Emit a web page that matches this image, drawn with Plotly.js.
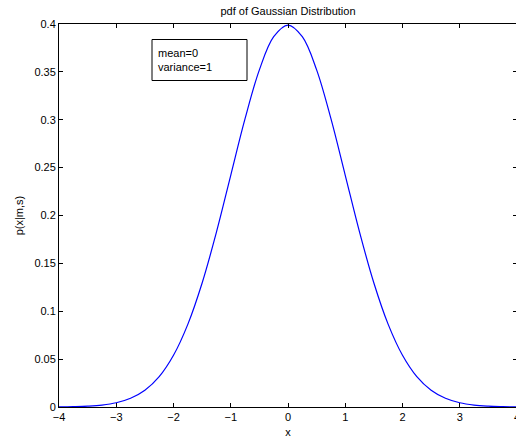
<!DOCTYPE html>
<html>
<head>
<meta charset="utf-8">
<script src="https://cdn.plot.ly/plotly-3.0.1.min.js"></script>
<style>
html,body{margin:0;padding:0;overflow:hidden;background:#fff;width:516px;height:438px;}
#chart{width:518px;height:438px;}
</style>
</head>
<body>
<div id="chart"></div>
<script>
var xValues = [-4,-3.75,-3.5,-3.25,-3,-2.75,-2.5,-2.25,-2,-1.75,-1.5,-1.25,-1,-0.75,-0.5,-0.25,0,0.25,0.5,0.75,1,1.25,1.5,1.75,2,2.25,2.5,2.75,3,3.25,3.5,3.75,4];
var pdfValues = [0.0001,0.0004,0.0009,0.002,0.0044,0.0091,0.0175,0.0317,0.054,0.0863,0.1295,0.1826,0.242,0.3011,0.3521,0.3867,0.3989,0.3867,0.3521,0.3011,0.242,0.1826,0.1295,0.0863,0.054,0.0317,0.0175,0.0091,0.0044,0.002,0.0009,0.0004,0.0001];
var xTickVals = [-4,-3,-2,-1,0,1,2,3,4];
var xTickText = ['\u22124','\u22123','\u22122','\u22121','0','1','2','3','4'];
var yTickVals = [0,0.05,0.1,0.15,0.2,0.25,0.3,0.35,0.4];
var yTickText = ['0','0.05','0.1','0.15','0.2','0.25','0.3','0.35','0.4'];
var legendLines = ['mean=0','variance=1'];

var fontFam = 'Liberation Sans, Arial, Helvetica, sans-serif';
var trace = {
  x: xValues, y: pdfValues, type: 'scatter', mode: 'lines',
  line: {color: '#0000ff', width: 1.2, shape: 'spline', smoothing: 1},
  hoverinfo: 'skip'
};
var layout = {
  width: 518, height: 438,
  margin: {l: 59, r: 1, t: 24, b: 31, pad: 0},
  paper_bgcolor: '#fff', plot_bgcolor: '#fff',
  showlegend: false,
  font: {family: fontFam, size: 11, color: '#000'},
  title: {text: 'pdf of Gaussian Distribution', font: {family: fontFam, size: 11, color: '#000'}, x: 0.5, xref: 'paper', y: 0.975, yref: 'container', yanchor: 'middle'},
  xaxis: {
    range: [-4, 4], tickvals: xTickVals, ticktext: xTickText,
    ticks: 'inside', ticklen: 4, tickwidth: 1, tickcolor: '#000',
    showline: true, linecolor: '#000', linewidth: 1, mirror: 'ticks',
    showgrid: false, zeroline: false, ticklabeloverflow: 'allow',
    tickfont: {family: fontFam, size: 11, color: '#000'},
    title: {text: 'x', font: {family: fontFam, size: 11, color: '#000'}, standoff: 6}
  },
  yaxis: {
    range: [0, 0.4], tickvals: yTickVals, ticktext: yTickText,
    ticks: 'inside', ticklen: 4, tickwidth: 1, tickcolor: '#000',
    showline: true, linecolor: '#000', linewidth: 1, mirror: 'ticks',
    showgrid: false, zeroline: false,
    tickfont: {family: fontFam, size: 11, color: '#000'},
    title: {text: 'p(x|m,s)', font: {family: fontFam, size: 11, color: '#000'}, standoff: 8}
  },
  shapes: [{
    type: 'rect', xref: 'paper', yref: 'paper',
    x0: (152-59)/458, x1: (247-59)/458,
    y0: (407-80.5)/383, y1: (407-39.5)/383,
    line: {color: '#000', width: 1}, fillcolor: '#fff', layer: 'above'
  }],
  annotations: [{
    xref: 'paper', yref: 'paper',
    x: (156-59)/458, y: (407-60)/383,
    xanchor: 'left', yanchor: 'middle', align: 'left',
    text: legendLines.join('<br>'), showarrow: false,
    font: {family: fontFam, size: 11, color: '#000'}
  }]
};
Plotly.newPlot('chart', [trace], layout, {displayModeBar: false, staticPlot: true});
</script>
</body>
</html>
